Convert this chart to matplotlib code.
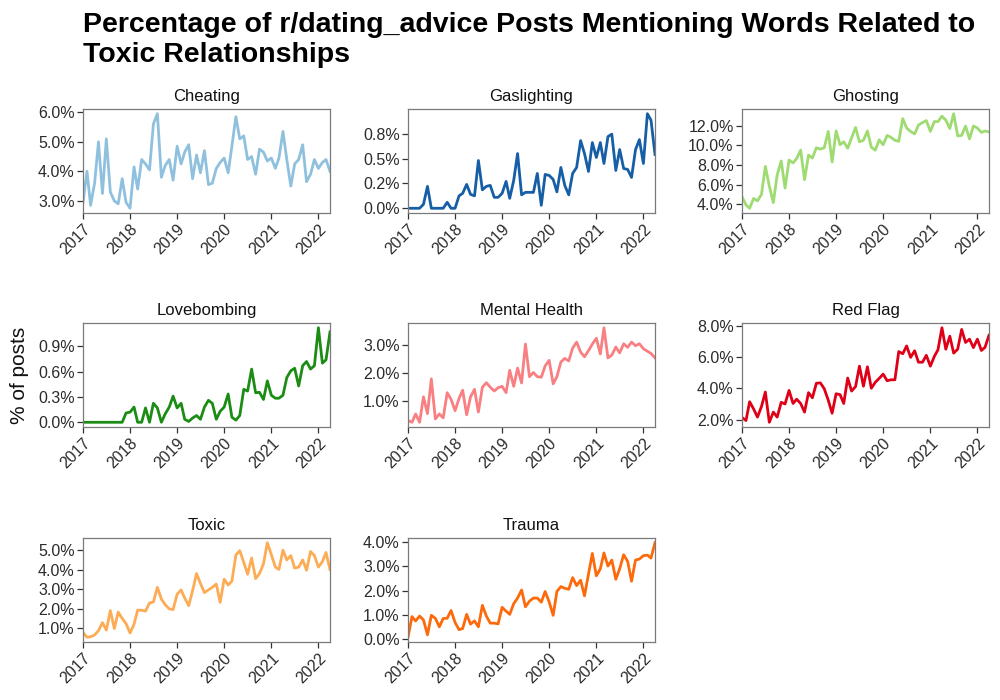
import pandas as pd
import matplotlib
matplotlib.use("Agg")
import matplotlib.pyplot as plt
import matplotlib.dates as mdates
from matplotlib.ticker import FixedLocator, FuncFormatter

plt.rcParams['font.family'] = ['Liberation Sans', 'DejaVu Sans']

# monthly data, Jan 2017 - Apr 2022 (% of posts)
months = pd.date_range("2017-01-01", "2022-04-01", freq="MS")

cheating = [2.95, 4.0, 2.85, 3.6, 5.0, 3.25, 5.1, 3.3, 3.0, 2.9, 3.75, 2.95,
            2.75, 4.15, 3.4, 4.4, 4.25, 4.05, 5.6, 5.95, 3.8, 4.2, 4.4, 3.7,
            4.85, 4.25, 4.65, 4.9, 3.75, 4.55, 3.95, 4.7, 3.55, 3.6, 4.1, 4.3,
            4.45, 3.95, 4.85, 5.85, 5.1, 5.2, 4.4, 4.5, 3.9, 4.75, 4.65, 4.35,
            4.45, 4.1, 4.45, 5.35, 4.4, 3.5, 4.25, 4.4, 4.9, 3.65, 3.9, 4.4,
            4.1, 4.3, 4.4, 4.0]
gaslighting = [0, 0, 0, 0, 0.04, 0.22, 0, 0, 0, 0, 0.06, 0,
               0, 0.125, 0.15, 0.24, 0.14, 0.125, 0.48, 0.185, 0.22, 0.23, 0.11, 0.11,
               0.15, 0.27, 0.10, 0.28, 0.55, 0.135, 0.16, 0.16, 0.16, 0.35, 0.03, 0.34,
               0.33, 0.29, 0.165, 0.41, 0.23, 0.135, 0.35, 0.41, 0.68, 0.55, 0.37, 0.66,
               0.51, 0.66, 0.45, 0.72, 0.745, 0.38, 0.59, 0.40, 0.39, 0.31, 0.59, 0.69,
               0.45, 0.95, 0.885, 0.54]
ghosting = [4.77, 3.94, 3.6, 4.6, 4.35, 5.0, 7.85, 5.85, 4.17, 7.0, 8.4, 5.65,
            8.5, 8.2, 8.65, 9.5, 6.5, 9.0, 8.7, 9.75, 9.6, 9.75, 11.4, 8.3,
            11.45, 10.05, 10.35, 9.7, 10.75, 11.8, 10.35, 10.5, 11.45, 9.8, 9.5, 10.55,
            10.05, 11.0, 10.8, 10.5, 10.4, 12.7, 11.75, 11.4, 11.15, 12.05, 12.3, 12.5,
            11.4, 12.4, 12.4, 12.95, 12.55, 11.7, 13.2, 10.95, 11.0, 11.95, 10.65, 11.95,
            11.75, 11.3, 11.45, 11.35]
lovebombing = [0, 0, 0, 0, 0, 0, 0, 0, 0, 0, 0, 0.11,
               0.12, 0.18, 0, 0, 0.17, 0, 0.225, 0.17, 0, 0.10, 0.18, 0.31,
               0.17, 0.225, 0.035, 0.01, 0.05, 0.08, 0.035, 0.18, 0.26, 0.225, 0.035, 0.13,
               0.18, 0.335, 0.06, 0.025, 0.08, 0.39, 0.37, 0.63, 0.35, 0.355, 0.27, 0.49,
               0.32, 0.285, 0.285, 0.32, 0.53, 0.61, 0.64, 0.43, 0.67, 0.72, 0.63, 0.67,
               1.12, 0.70, 0.74, 1.07]
mental_health = [0.28, 0.22, 0.52, 0.22, 1.14, 0.53, 1.79, 0.34, 0.52, 0.38, 1.29, 1.05,
                 0.64, 1.08, 1.38, 0.49, 1.14, 1.41, 0.59, 1.49, 1.65, 1.49, 1.35, 1.47,
                 1.52, 1.29, 2.1, 1.52, 2.18, 1.64, 3.05, 1.87, 2.02, 1.87, 1.85, 2.26,
                 2.46, 1.61, 1.87, 2.4, 2.53, 2.44, 2.9, 3.12, 2.76, 2.59, 2.81, 3.05,
                 3.26, 2.69, 3.64, 2.55, 2.65, 2.94, 2.73, 3.06, 2.93, 3.12, 2.99, 3.06,
                 2.88, 2.79, 2.71, 2.55]
red_flag = [2.14, 1.94, 3.14, 2.68, 2.16, 2.83, 3.76, 1.83, 2.48, 2.16, 3.1, 3.0,
            3.86, 3.03, 3.3, 3.03, 2.48, 3.72, 3.39, 4.32, 4.34, 3.97, 3.24, 2.41,
            3.65, 3.59, 3.03, 4.65, 3.82, 4.11, 5.41, 4.13, 5.37, 4.0, 4.38, 4.63,
            4.9, 4.48, 4.54, 4.54, 6.34, 6.2, 6.7, 5.97, 6.39, 5.66, 5.66, 6.1,
            5.41, 6.03, 6.45, 7.86, 6.49, 7.32, 6.24, 6.49, 7.75, 6.92, 7.13, 6.59,
            7.13, 6.41, 6.61, 7.38]
toxic = [0.78, 0.53, 0.56, 0.65, 0.87, 1.28, 0.9, 1.9, 0.98, 1.82, 1.5, 1.23,
         0.75, 1.2, 1.92, 1.92, 1.87, 2.29, 2.34, 3.09, 2.49, 2.2, 1.99, 1.95,
         2.74, 2.96, 2.54, 2.15, 2.92, 3.8, 3.29, 2.82, 2.96, 3.09, 3.26, 2.32,
         3.51, 3.21, 3.41, 4.75, 4.97, 4.38, 3.76, 4.6, 3.54, 3.8, 4.3, 5.38,
         4.77, 4.13, 4.01, 5.0, 4.5, 4.72, 4.08, 4.13, 4.5, 3.97, 4.93, 4.72,
         4.13, 4.41, 4.88, 4.0]
trauma = [0.09, 0.94, 0.76, 0.96, 0.8, 0.19, 0.99, 0.87, 0.52, 0.86, 0.87, 1.19,
          0.7, 0.4, 0.45, 1.03, 0.63, 0.76, 0.52, 1.4, 0.96, 0.67, 0.67, 0.64,
          1.32, 1.16, 1.03, 1.47, 1.7, 2.03, 1.34, 1.57, 1.7, 1.7, 1.53, 1.97,
          1.54, 0.99, 1.97, 2.17, 2.1, 2.06, 2.54, 2.21, 2.43, 1.79, 2.68, 3.53,
          2.61, 2.9, 3.55, 3.01, 3.26, 2.47, 2.9, 3.48, 3.2, 2.39, 3.26, 3.3,
          3.44, 3.46, 3.34, 3.97]

terms = ["Cheating", "Gaslighting", "Ghosting", "Lovebombing", "Mental Health",
         "Red Flag", "Toxic", "Trauma"]
series = [cheating, gaslighting, ghosting, lovebombing, mental_health,
          red_flag, toxic, trauma]
colors = ["#8fc1de", "#165ea6", "#9edb70", "#1b8c14", "#f87f82",
          "#df0018", "#fdac55", "#fc6a0c"]
y_ticks = [[3, 4, 5, 6], [0, 0.25, 0.5, 0.75], [4, 6, 8, 10, 12], [0, 0.3, 0.6, 0.9],
           [1, 2, 3], [2, 4, 6, 8], [1, 2, 3, 4, 5], [0, 1, 2, 3, 4]]
year_ticks = pd.date_range("2017-01-01", "2022-01-01", freq="YS")

fig = plt.figure(figsize=(10, 7), dpi=100)

# panel positions in pixels (left, top) for a 1000x700 canvas
col_left = [83, 408, 742]
row_top = [109, 323, 538]
pw, ph = 247, 104

for i, (name, vals) in enumerate(zip(terms, series)):
    r, c = divmod(i, 3)
    ax = fig.add_axes([col_left[c] / 1000, 1 - (row_top[r] + ph) / 700,
                       pw / 1000, ph / 700])
    ax.plot(months, vals, color=colors[i], linewidth=2.0, solid_joinstyle='round')
    ax.set_xlim(months[0], months[-1])
    ax.margins(y=0.05)
    ax.set_title(name, fontsize=12, pad=6, color='#111111')

    ax.xaxis.set_major_locator(FixedLocator(mdates.date2num(year_ticks)))
    ax.xaxis.set_major_formatter(mdates.DateFormatter('%Y'))
    ax.yaxis.set_major_locator(FixedLocator(y_ticks[i]))
    ax.yaxis.set_major_formatter(FuncFormatter(lambda v, p: f"{v:.1f}%"))
    for lab in ax.get_xticklabels():
        lab.set_rotation(45)
        lab.set_ha('right')
        lab.set_rotation_mode('anchor')

    ax.tick_params(axis='both', labelsize=11.5, labelcolor='#2b2b2b', color='#333333',
                   length=4, width=0.9, direction='out', pad=2)
    for sp in ax.spines.values():
        sp.set_color('#7a7a7a')
        sp.set_linewidth(0.9)

fig.text(0.083, 0.983, "Percentage of r/dating_advice Posts Mentioning Words Related to\n"
         "Toxic Relationships", fontsize=20.5, fontweight='bold', va='top', ha='left',
         linespacing=1.2)
fig.text(0.02, 1 - 375 / 700, "% of posts", rotation=90, fontsize=15,
         va='center', ha='center', color='#111111')

fig.savefig("out.png", dpi=100)
